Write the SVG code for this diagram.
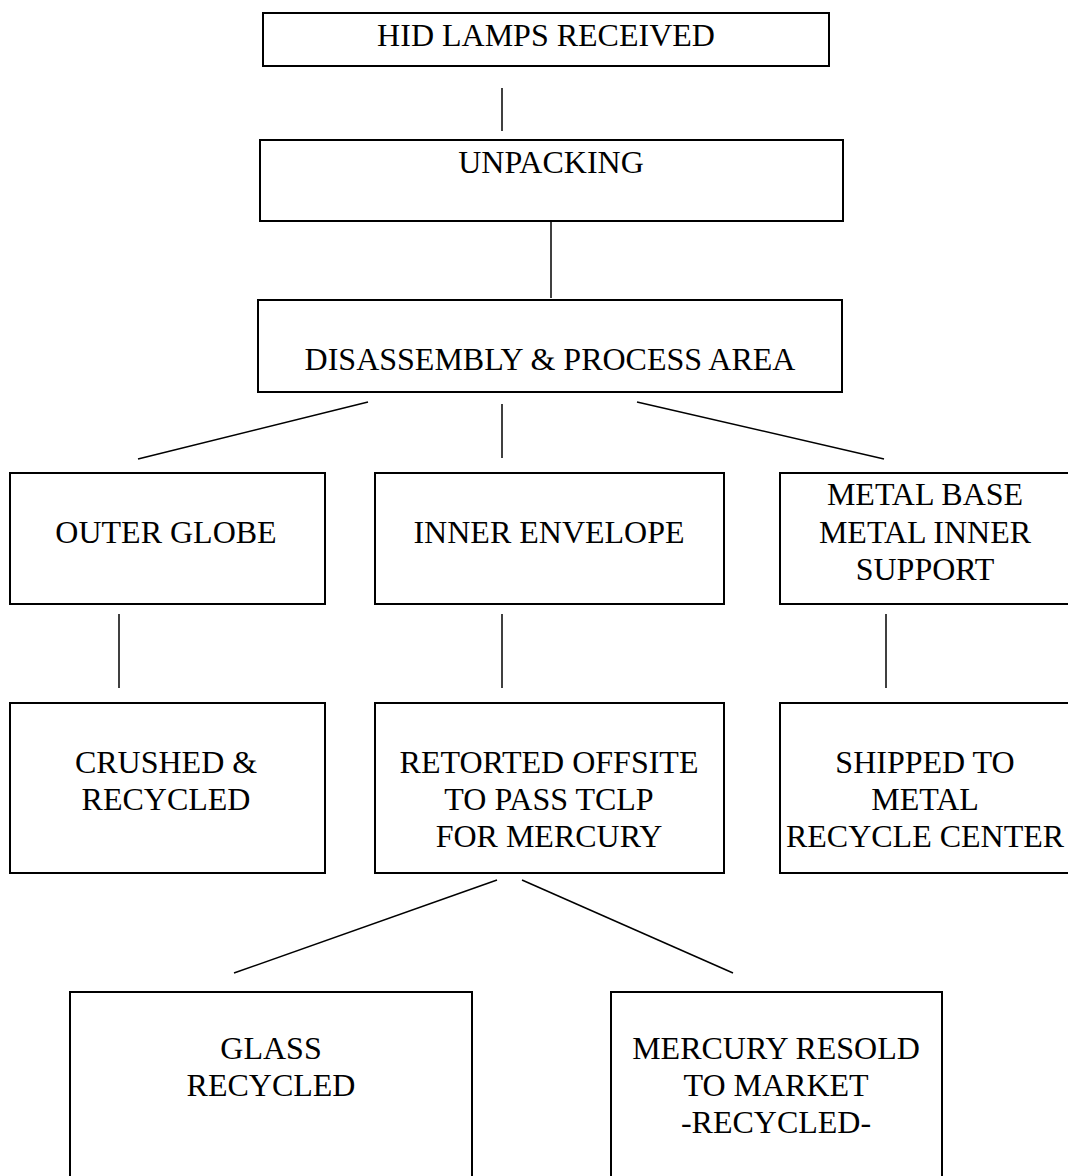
<svg xmlns="http://www.w3.org/2000/svg" width="1068" height="1176" viewBox="0 0 1068 1176">
<style>
.box{fill:#fff;stroke:#000;stroke-width:2}
.t{font-family:"Liberation Serif","Times New Roman",serif;font-size:32px;fill:#000;text-anchor:middle}
.c{stroke:#000;stroke-width:1.5;fill:none}
</style>
<rect width="1068" height="1176" fill="#fff"/>
<g id="connectors">
<line class="c" x1="502" y1="88" x2="502" y2="131"/>
<line class="c" x1="551" y1="222" x2="551" y2="298"/>
<line class="c" x1="368" y1="402" x2="138" y2="459"/>
<line class="c" x1="502" y1="404" x2="502" y2="458"/>
<line class="c" x1="637" y1="402" x2="884" y2="459"/>
<line class="c" x1="119" y1="614" x2="119" y2="688"/>
<line class="c" x1="502" y1="614" x2="502" y2="688"/>
<line class="c" x1="886" y1="614" x2="886" y2="688"/>
<line class="c" x1="497" y1="880" x2="234" y2="973"/>
<line class="c" x1="522" y1="880" x2="733" y2="973"/>
</g>
<g id="hid"><rect class="box" x="263" y="13" width="566" height="53"/><text class="t" x="546" y="46">HID LAMPS RECEIVED</text></g>
<g id="unpacking"><rect class="box" x="260" y="140" width="583" height="81"/><text class="t" x="551" y="173">UNPACKING</text></g>
<g id="disassembly"><rect class="box" x="258" y="300" width="584" height="92"/><text class="t" x="550" y="370">DISASSEMBLY &amp; PROCESS AREA</text></g>
<g id="outer"><rect class="box" x="10" y="473" width="315" height="131"/><text class="t" x="166" y="543">OUTER GLOBE</text></g>
<g id="inner"><rect class="box" x="375" y="473" width="349" height="131"/><text class="t" x="549" y="543">INNER ENVELOPE</text></g>
<g id="metal"><rect class="box" x="780" y="473" width="300" height="131"/><text class="t" x="925" y="505">METAL BASE</text><text class="t" x="925" y="543">METAL INNER</text><text class="t" x="925" y="580">SUPPORT</text></g>
<g id="crushed"><rect class="box" x="10" y="703" width="315" height="170"/><text class="t" x="166" y="773">CRUSHED &amp;</text><text class="t" x="166" y="810">RECYCLED</text></g>
<g id="retorted"><rect class="box" x="375" y="703" width="349" height="170"/><text class="t" x="549" y="773">RETORTED OFFSITE</text><text class="t" x="549" y="810">TO PASS TCLP</text><text class="t" x="549" y="847">FOR MERCURY</text></g>
<g id="shipped"><rect class="box" x="780" y="703" width="300" height="170"/><text class="t" x="925" y="773">SHIPPED TO</text><text class="t" x="925" y="810">METAL</text><text class="t" x="925" y="847">RECYCLE CENTER</text></g>
<g id="glass"><rect class="box" x="70" y="992" width="402" height="200"/><text class="t" x="271" y="1059">GLASS</text><text class="t" x="271" y="1096">RECYCLED</text></g>
<g id="mercury"><rect class="box" x="611" y="992" width="331" height="200"/><text class="t" x="776" y="1059">MERCURY RESOLD</text><text class="t" x="776" y="1096">TO MARKET</text><text class="t" x="776" y="1133">-RECYCLED-</text></g>
</svg>
